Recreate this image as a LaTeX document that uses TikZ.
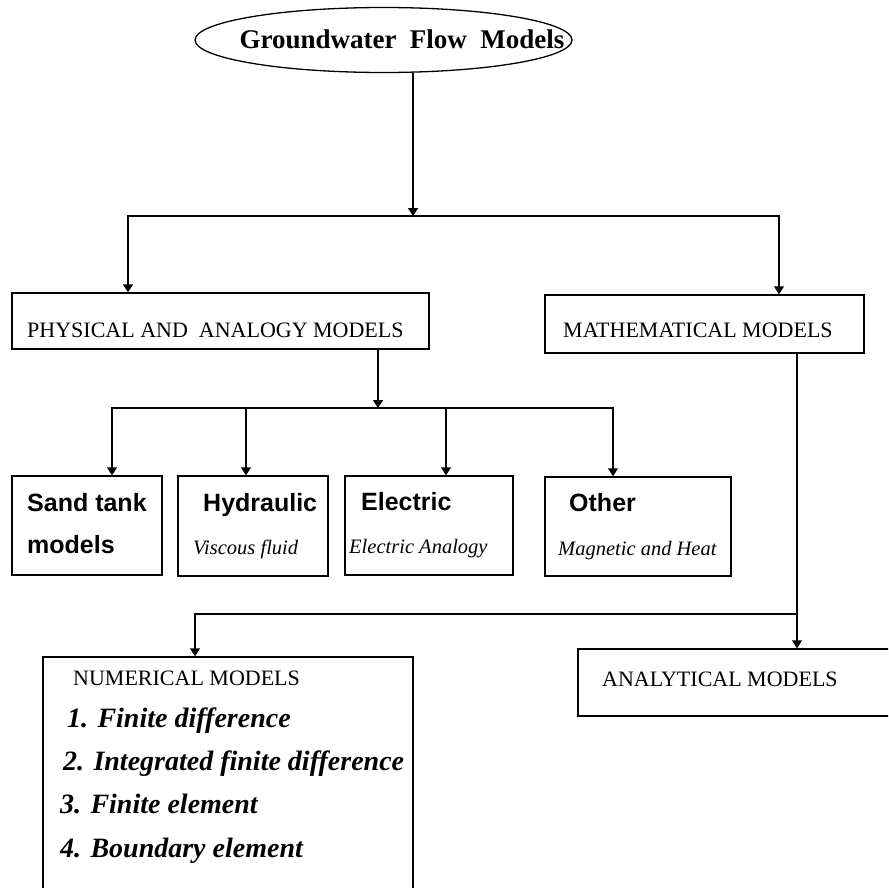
\documentclass[tikz,border=0pt]{standalone}
\usepackage{fontspec}
\setmainfont{Liberation Serif}
\newfontfamily\headfont{Liberation Sans}
\usetikzlibrary{shapes.geometric,arrows.meta}

\tikzset{
	box/.style={draw, line width=1.5pt, inner sep=0pt},
	arr/.style={line width=1.5pt, -{Triangle[length=8pt,width=10pt]}},
	capstext/.style={font=\fontsize{22}{26}\selectfont, anchor=base west, inner sep=0pt},
	headtext/.style={font=\headfont\bfseries\fontsize{25}{30}\selectfont, anchor=base west, inner sep=0pt},
	subtext/.style={font=\itshape\fontsize{20.5}{24}\selectfont, anchor=base west, inner sep=0pt},
	itemtext/.style={font=\bfseries\itshape\fontsize{28}{32}\selectfont, anchor=base west, inner sep=0pt},
}

\begin{document}
\begin{tikzpicture}[x=1pt,y=-1pt]
				\useasboundingbox (0,0) rectangle (888,888);
				\clip (0,0) rectangle (888,888);
				\node[ellipse, draw, line width=1.3pt, minimum width=377, minimum height=65, inner sep=0pt] (title) at (383.5,40) {};
				\node[font=\bfseries\fontsize{27}{32}\selectfont, anchor=base, inner sep=0pt] (titletext) at (402,49) {Groundwater\ \ Flow\ \ Models};
				%--
				\node[box, minimum width=417, minimum height=56] (phys) at (220.5,321) {};
				\node[capstext] (phystext) at (27,337) {PHYSICAL AND\ \ ANALOGY MODELS};
				\node[box, minimum width=319, minimum height=58] (math) at (704.5,324) {};
				\node[capstext] (mathtext) at (563,337) {MATHEMATICAL MODELS};
				\coordinate (topfork) at (413,216);
				\draw[arr] (title.south -| topfork) -- (topfork);
				\draw[arr] (topfork) -| ([xshift=-92.5]phys.north);
				\draw[arr] (topfork) -| ([xshift=74.5]math.north);
				%--
				\node[box, minimum width=150, minimum height=99] (sand) at (87,525.5) {};
				\node[headtext] (sand1) at (27,511) {Sand tank};
				\node[headtext] (sand2) at (27,553) {models};
				\node[box, minimum width=150, minimum height=100] (hyd) at (253,526) {};
				\node[headtext] (hyd1) at (203,511) {Hydraulic};
				\node[subtext] (hyd2) at (193,554) {Viscous fluid};
				\node[box, minimum width=168, minimum height=99] (elec) at (429,525.5) {};
				\node[headtext] (elec1) at (361,510) {Electric};
				\node[subtext] (elec2) at (349,553) {Electric Analogy};
				\node[box, minimum width=186, minimum height=99] (other) at (638,526.5) {};
				\node[headtext] (other1) at (569,511) {Other};
				\node[subtext] (other2) at (558,555) {Magnetic and Heat};
				\coordinate (midfork) at (378,408);
				\draw[arr] (phys.south -| midfork) -- (midfork);
				\draw[arr] (midfork) -| ([xshift=25]sand.north);
				\draw[arr] (midfork) -| ([xshift=-7]hyd.north);
				\draw[arr] (midfork) -| ([xshift=17]elec.north);
				\draw[arr] (midfork) -| ([xshift=-25]other.north);
				%--
				\node[box, minimum width=340, minimum height=67] (anal) at (748,682.5) {};
				\node[capstext] (analtext) at (602,686) {ANALYTICAL MODELS};
				\node[box, minimum width=370, minimum height=303] (num) at (228,808.5) {};
				\node[capstext] (numtext) at (73,685) {NUMERICAL MODELS};
				\node[itemtext] (num1) at (67,727) {1. Finite difference};
				\node[itemtext] (num2) at (63,770) {2. Integrated finite difference};
				\node[itemtext] (num3) at (60,813) {3. Finite element};
				\node[itemtext] (num4) at (60,857) {4. Boundary element};
				\coordinate (lowfork) at (797,614);
				\draw[arr] ([xshift=92.5]math.south) -- (anal.north -| lowfork);
				\draw[arr] (lowfork) -| ([xshift=-33]num.north);
\end{tikzpicture}
\end{document}
